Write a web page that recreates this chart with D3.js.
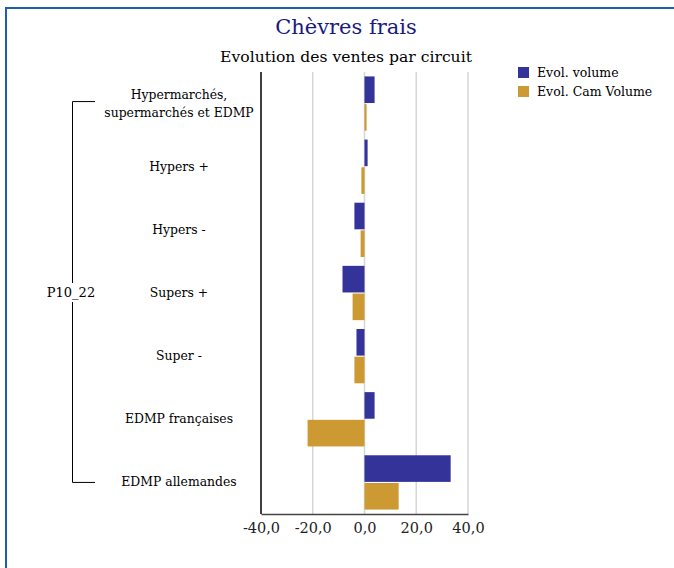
<!DOCTYPE html>
<html><head><meta charset="utf-8">
<script src="https://cdn.jsdelivr.net/npm/d3@7"></script>
<style>body{margin:0;background:#fff}svg{display:block}</style>
</head><body>
<svg id="c" width="674" height="568"></svg>
<script>
const categories = ["Hypermarchés,\nsupermarchés et EDMP","Hypers +","Hypers -","Supers +","Super -","EDMP françaises","EDMP allemandes"];
const seriesNames = ["Evol. volume","Evol. Cam Volume"];
const evolVolume = [3.9, 1.2, -3.9, -8.5, -3.1, 3.9, 33.3];
const evolCamVolume = [0.8, -1.2, -1.5, -4.6, -3.9, -22.0, 13.2];
const tickValues = [-40,-20,0,20,40];
const groupLabel = "P10_22";
const colors = ["#333399","#cc9933"];

const svg = d3.select("#c");
const serif = "'DejaVu Serif', serif";
const L=261, R=468, T=72, B=514;

// border
svg.append("path").attr("d","M6,568 V8 H674").attr("fill","none").attr("stroke","#1f5fb0").attr("stroke-width",2);

svg.append("text").attr("x",346).attr("y",34).attr("text-anchor","middle")
  .attr("font-family",serif).attr("font-size",21).attr("fill","#1a1a80").text("Chèvres frais");
svg.append("text").attr("x",346).attr("y",62).attr("text-anchor","middle")
  .attr("font-family",serif).attr("font-size",15.6).attr("fill","#000").text("Evolution des ventes par circuit");

const x = d3.scaleLinear().domain([-40,40]).range([L,R]);
const y = d3.scaleBand().domain(d3.range(categories.length)).range([T,B]).paddingInner(0.14).paddingOuter(0.07);
const sub = d3.scaleBand().domain([0,1]).range([0,y.bandwidth()]).paddingInner(0.04);

// grid
svg.append("g").selectAll("line").data(tickValues.filter(v=>v!==-40)).join("line")
  .attr("x1",d=>x(d)).attr("x2",d=>x(d)).attr("y1",T).attr("y2",B)
  .attr("stroke","#d6d6d6").attr("stroke-width",1.5);

const data = categories.map((c,i)=>[evolVolume[i],evolCamVolume[i]]);
const g = svg.append("g");
data.forEach((vals,i)=>{
  vals.forEach((v,k)=>{
    g.append("rect").attr("x",x(Math.min(0,v))).attr("width",Math.abs(x(v)-x(0)))
     .attr("y",y(i)+sub(k)).attr("height",sub.bandwidth()).attr("fill",colors[k]);
  });
});

// axes
const xa = svg.append("g").attr("transform",`translate(0,${B})`)
  .call(d3.axisBottom(x).tickValues(tickValues).tickSize(0).tickPadding(9).tickFormat(d=>d3.format(".1f")(d).replace(".",",").replace("−","-")));
xa.select(".domain").attr("stroke","#444").attr("stroke-width",1.5);
xa.selectAll("text").attr("font-family",serif).attr("font-size",14.5).attr("fill","#222");

svg.append("line").attr("x1",L).attr("x2",L).attr("y1",T).attr("y2",B).attr("stroke","#000").attr("stroke-width",1.5);

// category labels
const lab = svg.append("g");
categories.forEach((c,i)=>{
  const lines = c.split("\n");
  const cy = y(i)+y.bandwidth()/2;
  const t = lab.append("text").attr("x",179).attr("text-anchor","middle")
    .attr("font-family",serif).attr("font-size",12.4).attr("fill","#000");
  lines.forEach((ln,j)=>{
    t.append("tspan").attr("x",179).attr("y",cy+4+(j-(lines.length-1)/2)*18).text(ln);
  });
});

// bracket
const yTop = y(0)+y.bandwidth()/2 - 2, yBot = y(categories.length-1)+y.bandwidth()/2;
svg.append("path").attr("d",`M95,${yTop}H72.5V283 M72.5,302V${yBot}H95`).attr("fill","none").attr("stroke","#000").attr("stroke-width",1);
svg.append("text").attr("x",71).attr("y",297).attr("text-anchor","middle").attr("font-family",serif).attr("font-size",13).text(groupLabel);

// legend
const lg = svg.append("g");
seriesNames.forEach((n,k)=>{
  lg.append("rect").attr("x",518).attr("y",67+k*19).attr("width",11).attr("height",11).attr("fill",colors[k]);
  lg.append("text").attr("x",537).attr("y",77+k*19).attr("font-family",serif).attr("font-size",12.5).text(n);
});
</script>
</body></html>
